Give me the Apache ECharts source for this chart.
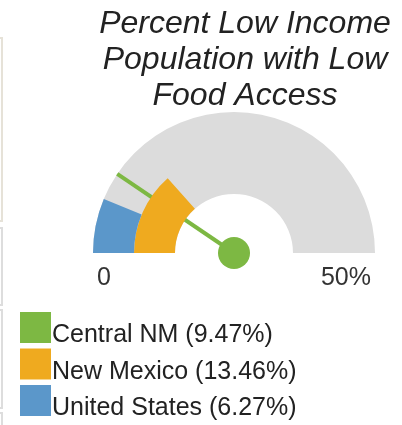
<!DOCTYPE html>
<html>
<head>
<meta charset="utf-8">
<script src="https://cdn.jsdelivr.net/npm/echarts@6/dist/echarts.min.js"></script>
<style>
  html, body { margin: 0; padding: 0; background: #fff; }
  #gauge { width: 402px; height: 425px; }
</style>
</head>
<body>
<div id="gauge"></div>
<script>
// values
const regions = ['Central NM', 'New Mexico', 'United States'];
const pctValues = [9.47, 13.46, 6.27];
const regionColors = ['#7db843', '#efaa1f', '#5b97ca'];
const scaleMin = 0;
const scaleMax = 50;
const tickLabels = ['0', '50%'];

const cx = 234;
const cy = 253;
const outerR = 141;
const midR = 100;
const innerR = 59;
const font = '"Liberation Sans", Arial, sans-serif';

const chart = echarts.init(document.getElementById('gauge'));

const base = {
  type: 'gauge',
  center: [cx, cy],
  startAngle: 180,
  endAngle: 0,
  min: scaleMin,
  max: scaleMax,
  splitNumber: 1,
  axisLine: { show: false },
  axisTick: { show: false },
  splitLine: { show: false, length: 0, distance: 0 },
  axisLabel: { show: false },
  pointer: { show: false },
  anchor: { show: false },
  title: { show: false },
  detail: { show: false },
  animation: false,
};

function idx(name) { return regions.indexOf(name); }

const option = {
  title: {
    text: 'Percent Low Income\nPopulation with Low\nFood Access',
    left: 245,
    top: 6,
    padding: 0,
    textAlign: 'center',
    textStyle: {
      fontFamily: font,
      fontStyle: 'italic',
      fontWeight: 'normal',
      fontSize: 32,
      lineHeight: 36,
      color: '#222',
    },
  },
  legend: {
    data: regions,
    orient: 'vertical',
    left: 20,
    top: 307,
    height: 200,
    padding: 0,
    itemWidth: 31,
    itemHeight: 31,
    itemGap: -4.5,
    icon: 'rect',
    selectedMode: false,
    textStyle: {
      fontFamily: font,
      fontSize: 25,
      lineHeight: 16,
      color: '#222',
      padding: [0, 0, 0, -4],
    },
    // empty first line pushes the label down to sit low beside the swatch
    formatter(name) {
      return `\n${name} (${pctValues[idx(name)].toFixed(2)}%)`;
    },
  },
  graphic: [
    { type: 'rect', shape: { x: -20, y: 38, width: 22, height: 183 }, style: { fill: 'none', stroke: '#e6e2d8', lineWidth: 2 } },
    { type: 'rect', shape: { x: -20, y: 228, width: 22, height: 77 }, style: { fill: 'none', stroke: '#dddddd', lineWidth: 2 } },
    { type: 'rect', shape: { x: -20, y: 310, width: 22, height: 98 }, style: { fill: 'none', stroke: '#dddddd', lineWidth: 2 } },
    { type: 'rect', shape: { x: -20, y: 413, width: 22, height: 40 }, style: { fill: 'none', stroke: '#dddddd', lineWidth: 2 } },
  ],
  series: [
    // grey scale band with end labels
    Object.assign({}, base, {
      name: 'scale',
      radius: outerR,
      axisLine: { show: true, roundCap: false, lineStyle: { width: outerR - innerR, color: [[1, '#dcdcdc']] } },
      axisLabel: {
        show: true,
        distance: 4,
        fontFamily: font,
        fontSize: 25,
        lineHeight: 50,
        color: '#333',
        formatter(v) { return '\n' + (v === scaleMin ? tickLabels[0] : tickLabels[1]); },
      },
      data: [],
    }),
    Object.assign({}, base, {
      name: 'United States',
      radius: outerR,
      itemStyle: { color: regionColors[2] },
      progress: { show: true, width: outerR - midR, roundCap: false },
      data: [{ value: pctValues[2], name: 'United States' }],
    }),
    Object.assign({}, base, {
      name: 'New Mexico',
      radius: midR,
      itemStyle: { color: regionColors[1] },
      progress: { show: true, width: midR - innerR, roundCap: false },
      data: [{ value: pctValues[1], name: 'New Mexico' }],
    }),
    Object.assign({}, base, {
      name: 'Central NM',
      radius: outerR,
      itemStyle: { color: regionColors[0] },
      pointer: { show: true, icon: 'rect', width: 4, length: '100%', offsetCenter: [0, 0], itemStyle: { color: regionColors[0] } },
      anchor: { show: true, showAbove: true, size: 32, icon: 'circle', itemStyle: { color: regionColors[0], borderWidth: 0 } },
      data: [{ value: pctValues[0], name: 'Central NM' }],
    }),
  ],
};

chart.setOption(option);
</script>
</body>
</html>
